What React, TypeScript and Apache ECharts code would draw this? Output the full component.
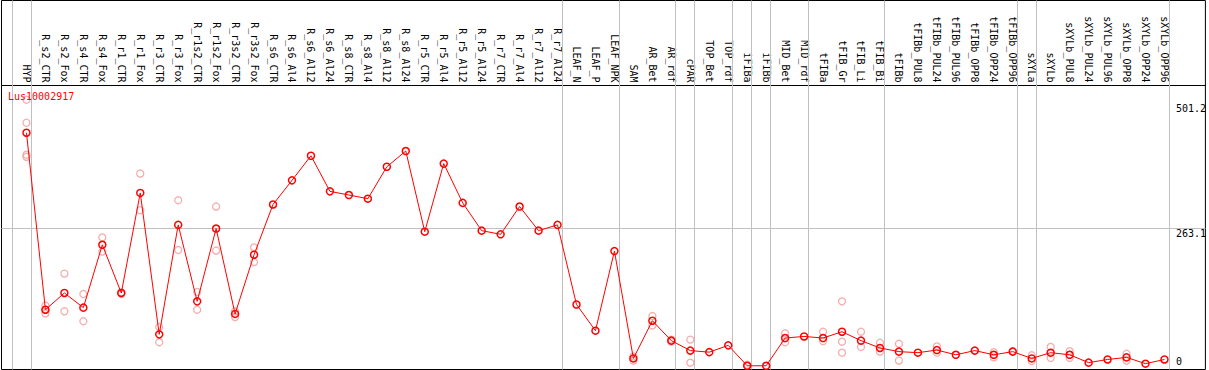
import React, { useEffect, useRef } from 'react';
import * as echarts from 'echarts';

const geneName = 'Lus10002917';

const categories = [
  'HYP', 'R_s2_CTR', 'R_s2_Fox', 'R_s4_CTR', 'R_s4_Fox', 'R_r1_CTR', 'R_r1_Fox', 'R_r3_CTR', 'R_r3_Fox',
  'R_r1s2_CTR', 'R_r1s2_Fox', 'R_r3s2_CTR', 'R_r3s2_Fox', 'R_s6_CTR', 'R_s6_Al4', 'R_s6_Al12', 'R_s6_Al24',
  'R_s8_CTR', 'R_s8_Al4', 'R_s8_Al12', 'R_s8_Al24', 'R_r5_CTR', 'R_r5_Al4', 'R_r5_Al12', 'R_r5_Al24',
  'R_r7_CTR', 'R_r7_Al4', 'R_r7_Al12', 'R_r7_Al24', 'LEAF_N', 'LEAF_P', 'LEAF_NPK', 'SAM', 'AR_Bet', 'AR_rdf',
  'cPAR', 'TOP_Bet', 'TOP_rdf', 'iFIBa', 'iFIBb', 'MID_Bet', 'MID_rdf', 'tFIBa', 'tFIB_Gr', 'tFIB_Li', 'tFIB_Bi',
  'tFIBb', 'tFIBb_PUL8', 'tFIBb_PUL24', 'tFIBb_PUL96', 'tFIBb_OPP8', 'tFIBb_OPP24', 'tFIBb_OPP96',
  'sXYLa', 'sXYLb', 'sXYLb_PUL8', 'sXYLb_PUL24', 'sXYLb_PUL96', 'sXYLb_OPP8', 'sXYLb_OPP24', 'sXYLb_OPP96',
];

const means = [
  446, 108, 140, 112, 232, 140, 331, 61, 270,
  124, 263, 100, 213, 309, 355, 402, 334,
  327, 320, 381, 411, 257, 387, 312, 259,
  252, 305, 259, 270, 118, 68, 220, 15, 87, 49,
  30, 27, 40, 1, 1, 54, 57, 54, 66, 49, 35,
  28, 26, 31, 22, 30, 22, 28,
  15, 26, 22, 7, 13, 17, 5, 13,
];

const replicates: number[][] = [
  [509, 465, 404, 400], [116, 108, 101], [177, 105], [138, 86], [246, 219], [141, 138], [368, 298], [75, 46], [317, 222],
  [142, 108], [305, 221], [105, 94], [227, 199], [], [], [], [],
  [], [], [], [], [], [], [], [],
  [], [], [], [], [], [], [], [19, 11], [96, 78], [51, 47],
  [51, 7], [], [], [3], [], [63, 46], [], [66, 48], [124, 47, 26], [66, 37], [45, 28],
  [43, 11], [], [38, 26], [], [], [27, 17], [29],
  [21, 10], [37, 16], [29, 16], [], [], [24, 11], [], [],
];

const yTickValues = [0, 263.1, 501.2];
const gridLineValues = [263.1];
const groupEndsAfter = [
  'HYP', 'R_r7_Al24', 'LEAF_NPK', 'AR_rdf', 'cPAR', 'TOP_rdf', 'iFIBa', 'iFIBb', 'MID_rdf',
  'tFIB_Bi', 'tFIBb_OPP96', 'sXYLa', 'sXYLb_OPP96',
];

export default function App() {
  const ref = useRef<HTMLDivElement>(null);

  useEffect(() => {
    document.body.style.margin = '0';
    if (!ref.current) return;
    const chart = echarts.init(ref.current, null, { renderer: 'svg' });
    const FONT = "'DejaVu Sans Mono', monospace";

    const sepPositions = [-1, ...groupEndsAfter.map((n) => categories.indexOf(n))].map((i) => i + 0.23);
    const repData: number[][] = [];
    replicates.forEach((r, i) => r.forEach((v) => repData.push([i, v])));
    const meanData = means.map((v, i) => [i, v]);

    const xMin = -1.3158;
    const xMax = 62.158;
    const yMin = -6.11;
    const yMax = 698.4;

    const yAxisBase = {
      type: 'value',
      position: 'right',
      min: yMin,
      max: yMax,
      axisLine: { show: false },
      axisTick: { show: false },
      splitLine: { show: false },
    };

    chart.setOption({
      animation: false,
      title: {
        text: geneName,
        left: 8,
        top: 91,
        padding: 0,
        textStyle: { color: '#ff0000', fontSize: 10, fontWeight: 'normal', fontFamily: FONT },
      },
      grid: {
        left: 1.5,
        right: 1.5,
        top: 0.5,
        bottom: 0.5,
        show: true,
        borderColor: '#000',
        borderWidth: 1,
        backgroundColor: 'transparent',
      },
      xAxis: {
        type: 'value',
        position: 'top',
        offset: -85,
        min: xMin,
        max: xMax,
        axisLine: { show: true, onZero: false, lineStyle: { color: '#000', width: 1 } },
        axisTick: { show: false },
        splitLine: { show: false },
        axisLabel: {
          customValues: categories.map((_, i) => i),
          formatter: (v: number) => categories[Math.round(v)] ?? '',
          rotate: 90,
          margin: 3,
          fontFamily: FONT,
          fontSize: 10,
          color: '#000',
        },
      },
      yAxis: [
        {
          ...yAxisBase,
          axisLabel: {
            inside: true,
            margin: 29.5,
            align: 'left',
            verticalAlign: 'top',
            customValues: yTickValues.filter((v) => v !== 0),
            formatter: (v: number) => String(v),
            fontFamily: FONT,
            fontSize: 10,
            color: '#000',
          },
        },
        {
          ...yAxisBase,
          axisLabel: {
            inside: true,
            margin: 29.5,
            align: 'left',
            verticalAlign: 'bottom',
            customValues: yTickValues.filter((v) => v === 0),
            formatter: (v: number) => String(v),
            fontFamily: FONT,
            fontSize: 10,
            color: '#000',
          },
        },
      ],
      series: [
        {
          type: 'scatter',
          name: 'replicates',
          xAxisIndex: 0,
          yAxisIndex: 0,
          z: 2,
          data: repData,
          symbol: 'circle',
          symbolSize: 7,
          itemStyle: { color: 'rgba(0,0,0,0)', borderColor: '#f09a9a', borderWidth: 1.3 },
          silent: true,
          markLine: {
            silent: true,
            symbol: 'none',
            z: 1,
            label: { show: false },
            lineStyle: { color: '#c0c0c0', width: 1, type: 'solid' },
            emphasis: { disabled: true },
            data: [
              ...sepPositions.map((x) => ({ xAxis: x })),
              ...gridLineValues.map((y) => ({ yAxis: y })),
            ],
          },
        },
        {
          type: 'line',
          name: 'mean',
          xAxisIndex: 0,
          yAxisIndex: 0,
          z: 3,
          data: meanData,
          symbol: 'circle',
          symbolSize: 7,
          showAllSymbol: true,
          lineStyle: { color: '#ff0000', width: 1 },
          itemStyle: { color: 'rgba(0,0,0,0)', borderColor: '#ff0000', borderWidth: 1.5 },
          silent: true,
        },
      ],
    });

    return () => chart.dispose();
  }, []);

  return <div ref={ref} style={{ width: 1209, height: 370 }} />;
}
